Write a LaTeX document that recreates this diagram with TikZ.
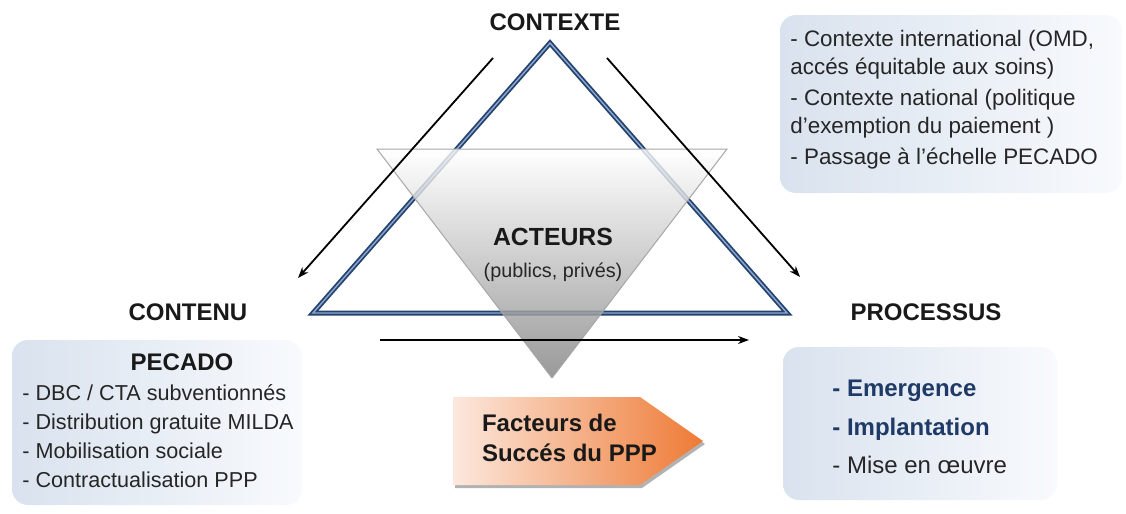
\documentclass[tikz,border=0pt]{standalone}
\usepackage{fontspec}
\setmainfont{Liberation Sans}
\usepackage{tikz}
\usetikzlibrary{arrows.meta,positioning}

\definecolor{navyline}{HTML}{24436F}
\definecolor{paleline}{HTML}{8FA8CF}
\definecolor{boxleft}{HTML}{D9E2EE}
\definecolor{boxright}{HTML}{F8FAFD}
\definecolor{itemblue}{HTML}{1F3A66}
\definecolor{peach}{HTML}{FCE8DE}
\definecolor{deeporange}{HTML}{EE7A34}

\tikzset{
	heading/.style={font=\fontsize{12}{14}\selectfont\bfseries, text=black!90},
	listtext/.style={font=\fontsize{10.8}{14}\selectfont, align=left, inner sep=0pt, text=black!85},
	infobox/.style={rounded corners=8pt, left color=boxleft, right color=boxright, inner sep=0pt},
	flow/.style={-{Stealth[length=5.5pt,width=4pt]}, line width=0.9pt},
}

\begin{document}
\begin{tikzpicture}[x=0.5pt,y=-0.5pt]
	\useasboundingbox (0,0) rectangle (1126,514);

	\coordinate (top) at (550,43);
	\coordinate (left) at (313,313);
	\coordinate (right) at (787,313);
	\coordinate (tl) at (377,149);
	\coordinate (tr) at (727,149);
	\coordinate (tip) at (552,378);

	\draw[navyline, double=paleline, line width=0.9pt, double distance=0.7pt] (top) -- (left) -- (right) -- cycle;
	\shade[top color=white, bottom color=black!50, fill opacity=0.8] (tl) -- (tr) -- (tip) -- cycle;
	\draw[black!35, line width=0.5pt] (tip) -- (tl) -- (tr) -- (tip);

	\coordinate (ctxL) at (493,58);
	\coordinate (contE) at (298,278);
	\coordinate (ctxR) at (607,58);
	\coordinate (procE) at (800,277);
	\coordinate (flowS) at (380,340);
	\coordinate (flowE) at (749,340);
	\draw[flow] (ctxL) -- (contE);
	\draw[flow] (ctxR) -- (procE);
	\draw[flow] (flowS) -- (flowE);

	\node[heading] (contexte) at (555,22) {CONTEXTE};
	\node[heading] (contenu) at (188,312) {CONTENU};
	\node[heading] (processus) at (926,312) {PROCESSUS};
	\node[heading, font=\fontsize{12.4}{14}\selectfont\bfseries] (acteurs) at (553,237) {ACTEURS};
	\node[font=\fontsize{9.9}{12}\selectfont, text=black!85] (roles) at (553,272) {(publics, privés)};

	\node[infobox, minimum width=171pt, minimum height=89pt] (ctxbox) at (951,104) {};
	\node[listtext, anchor=west, font=\fontsize{11.2}{14}\selectfont] (ctxlist) at (790,100) {- Contexte international (OMD,\\accés équitable aux soins)\\[1.5pt]- Contexte national (politique\\d’exemption du paiement )\\[1.5pt]- Passage à l’échelle PECADO};

	\node[infobox, minimum width=145pt, minimum height=82.5pt] (contbox) at (157,422.5) {};
	\node[heading] (pecado) at (182,362) {PECADO};
	\node[listtext, anchor=west, font=\fontsize{10.8}{14.5}\selectfont] (contlist) at (22,436) {- DBC / CTA subventionnés\\- Distribution gratuite MILDA\\- Mobilisation sociale\\- Contractualisation PPP};

	\node[infobox, minimum width=137pt, minimum height=76.5pt] (procbox) at (920,423.5) {};
	\node[listtext, anchor=west, font=\fontsize{12}{19.25}\selectfont] (proclist) at (832,427) {\textbf{\color{itemblue}- Emergence}\\\textbf{\color{itemblue}- Implantation}\\- Mise en œuvre};

	\fill[black!30] (455,400) -- (642,400) -- (705,444) -- (642,488) -- (455,488) -- cycle;
	\shade[left color=peach, right color=deeporange] (453,397) -- (640,397) -- (703,441) -- (640,485) -- (453,485) -- cycle;
	\node[heading, anchor=west, align=left, font=\fontsize{12}{15}\selectfont\bfseries] (facteurs) at (475,438) {Facteurs de\\Succés du PPP};
\end{tikzpicture}
\end{document}
